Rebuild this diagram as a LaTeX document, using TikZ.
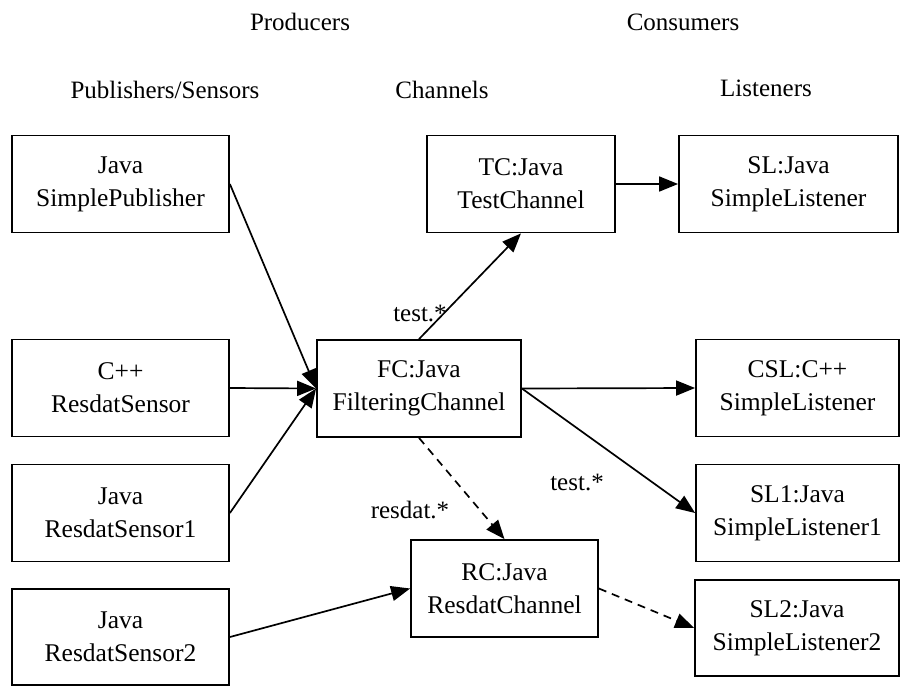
\documentclass[tikz,border=0pt]{standalone}
\usepackage{fontspec}
\setmainfont{Liberation Serif}
\usetikzlibrary{arrows.meta}
\begin{document}
\begin{tikzpicture}[x=1pt,y=-1pt]

\tikzset{vertex/.style = {shape=rectangle,draw,line width=1.8pt,align=center,inner sep=0pt,minimum height=97pt,font=\fontsize{25.5}{33}\selectfont}}
\tikzset{label/.style = {font=\fontsize{25}{30}\selectfont}}
\tikzset{edge/.style = {-{Triangle[length=19pt,width=15pt]},line width=1.7pt}}
\tikzset{edge2/.style = {edge,dash pattern=on 8pt off 6pt}}
\useasboundingbox (0,0) rectangle (901,686);
% headings
\node[label] (Producers) at (300,22) {Producers};
\node[label] (Consumers) at (683,22) {Consumers};
\node[label] (SensorHead) at (165,90) {Publishers/Sensors};
\node[label] (ChannelHead) at (442,90) {Channels};
\node[label] (ListenerHead) at (766,88) {Listeners};
% vertices
\node[vertex,minimum width=217pt] (Publisher) at (120.5,184) {Java\\SimplePublisher};
\node[vertex,minimum width=217pt] (CSensor) at (120.5,388) {C++\\ResdatSensor};
\node[vertex,minimum width=217pt] (Sensor1) at (120.5,513) {Java\\ResdatSensor1};
\node[vertex,minimum width=217pt,minimum height=96pt] (Sensor2) at (120.5,637) {Java\\ResdatSensor2};
\node[vertex,minimum width=204pt] (Filter) at (419,388.5) {FC:Java\\FilteringChannel};
\node[vertex,minimum width=188pt] (Test) at (521,184) {TC:Java\\TestChannel};
\node[vertex,minimum width=187pt] (Resdat) at (504.5,588.5) {RC:Java\\ResdatChannel};
\node[vertex,minimum width=219pt] (Listener) at (788.5,184) {SL:Java\\SimpleListener};
\node[vertex,minimum width=203pt] (CListener) at (797.5,388) {CSL:C++\\SimpleListener};
\node[vertex,minimum width=203pt] (Listener1) at (797.5,513) {SL1:Java\\SimpleListener1};
\node[vertex,minimum width=204pt,minimum height=96pt] (Listener2) at (797,628) {SL2:Java\\SimpleListener2};
%edges
\draw[edge] (Publisher.east) to (Filter.west);
\draw[edge] (CSensor.east) to (Filter.west);
\draw[edge] (Sensor1.east) to (Filter.west);
\draw[edge] (Sensor2.east) to (Resdat.west);
\draw[edge] (Filter.north) to (Test.south);
\draw[edge] (Test.east) to (Listener.west);
\draw[edge] (Filter.east) to (CListener.west);
\draw[edge] (Filter.east) to (Listener1.west);
\draw[edge2] (Filter.south) to (Resdat.north);
\draw[edge2] (Resdat.east) to (Listener2.west);
% edge labels
\node[label] (TestTag) at (420,313) {test.*};
\node[label] (ResdatTag) at (410,510) {resdat.*};
\node[label] (TestTag2) at (577,482) {test.*};
\end{tikzpicture}
\end{document}
